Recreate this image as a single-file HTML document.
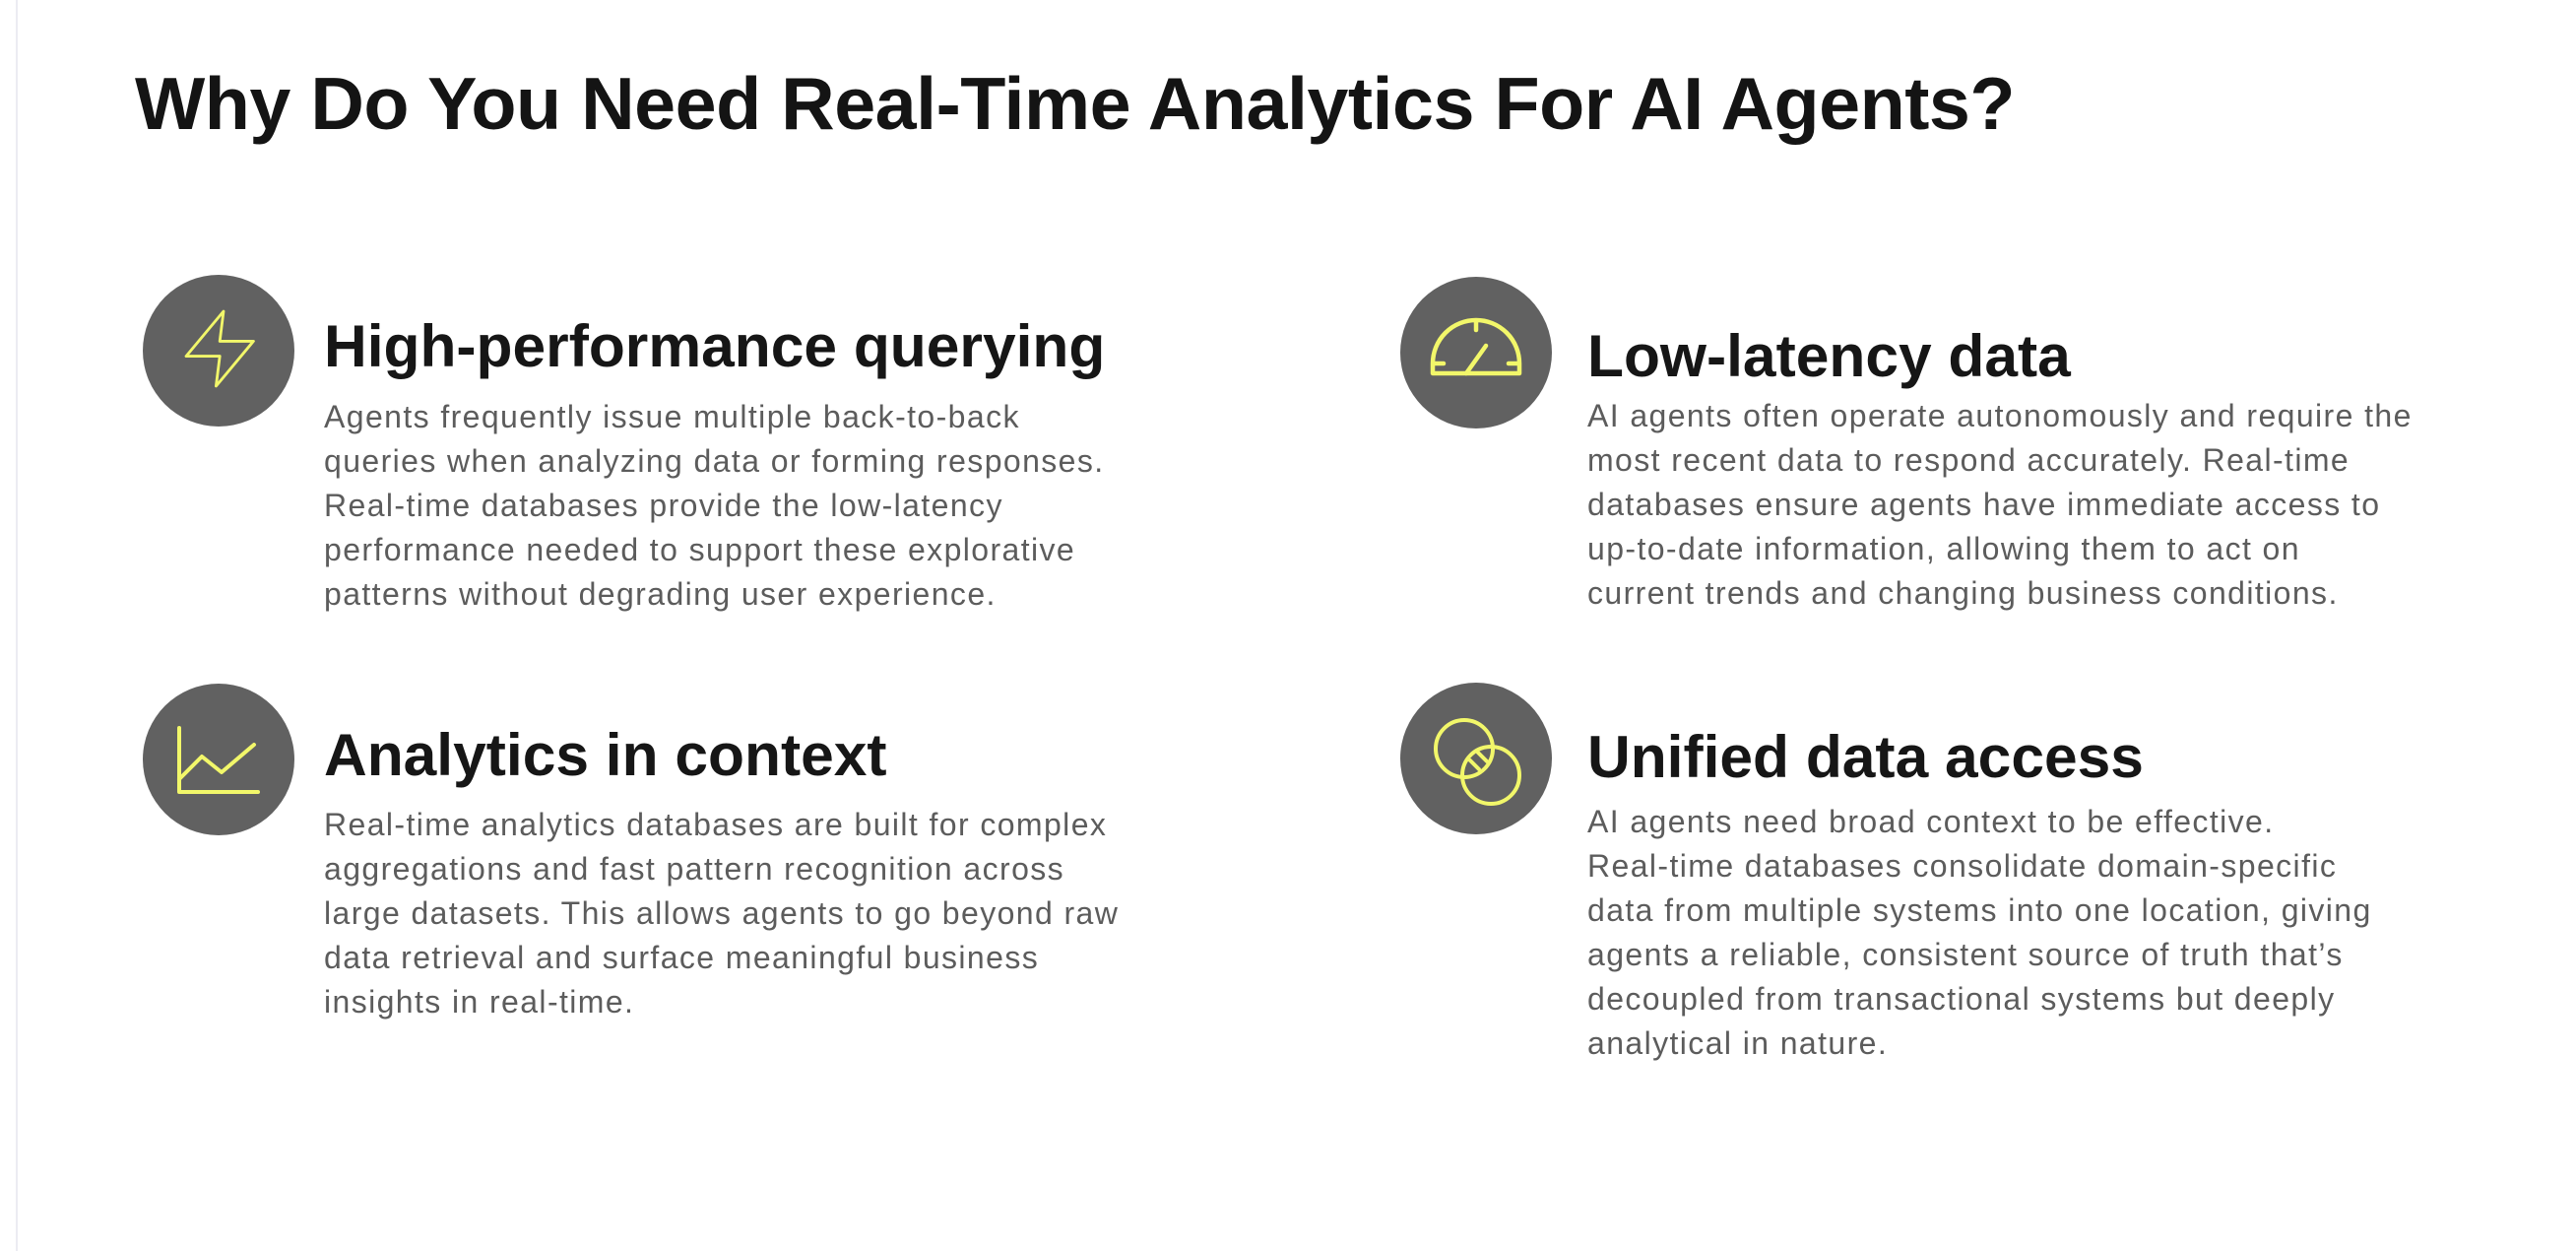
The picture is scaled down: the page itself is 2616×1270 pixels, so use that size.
<!DOCTYPE html>
<html><head><meta charset="utf-8"><style>
html,body{margin:0;padding:0;background:#fff;}
body{width:2616px;height:1270px;position:relative;overflow:hidden;font-family:"Liberation Sans",Arial,sans-serif;}
.vl{position:absolute;left:16px;top:0;width:2px;height:1270px;background:#ececf2;}
.t{position:absolute;left:137px;top:69px;font-size:75.5px;line-height:72px;font-weight:bold;color:#141414;white-space:nowrap;letter-spacing:-0.5px;}
.c{position:absolute;width:154px;height:154px;border-radius:50%;background:#616161;}
.c svg{position:absolute;left:0;top:0;}
.h{position:absolute;font-size:60.5px;line-height:56px;font-weight:bold;color:#161616;white-space:nowrap;}
.b{position:absolute;font-size:32px;line-height:45px;color:#5c5c5c;white-space:nowrap;letter-spacing:1.4px;}
</style></head><body>
<div class="vl"></div>
<div class="t">Why Do You Need Real-Time Analytics For AI Agents?</div>

<div class="c" style="left:145px;top:279px;">
<svg width="154" height="154" viewBox="0 0 154 154"><g transform="translate(32.6,29.4) scale(3.8)"><polygon points="13 2 3 14 12 14 11 22 21 10 12 10 13 2" fill="none" stroke="#f2f76a" stroke-width="0.75" stroke-linejoin="round"/></g></svg>
</div>
<div class="h" style="left:329px;top:323px;">High-performance querying</div>
<div class="b" style="left:329px;top:401px;">Agents frequently issue multiple back-to-back<br>queries when analyzing data or forming responses.<br>Real-time databases provide the low-latency<br>performance needed to support these explorative<br>patterns without degrading user experience.</div>

<div class="c" style="left:1422px;top:281px;">
<svg width="154" height="154" viewBox="0 0 154 154"><g fill="none" stroke="#f2f76a" stroke-width="4.5" stroke-linecap="round" stroke-linejoin="round">
<path d="M33,98 L33,88 A44,44 0 0 1 121,88 L121,98 Z"/>
<line x1="77" y1="45" x2="77" y2="54"/><line x1="34" y1="88" x2="44" y2="88"/><line x1="110" y1="88" x2="120" y2="88"/>
<line x1="67" y1="98" x2="87" y2="70"/></g></svg>
</div>
<div class="h" style="left:1612px;top:333px;">Low-latency data</div>
<div class="b" style="left:1612px;top:400px;">AI agents often operate autonomously and require the<br>most recent data to respond accurately. Real-time<br>databases ensure agents have immediate access to<br>up-to-date information, allowing them to act on<br>current trends and changing business conditions.</div>

<div class="c" style="left:145px;top:694px;">
<svg width="154" height="154" viewBox="0 0 154 154"><g fill="none" stroke="#f2f76a" stroke-width="4" stroke-linecap="round" stroke-linejoin="round">
<path d="M37,45 L37,110 L117,110"/><path d="M37,97 L60,74 L80,90 L113,62"/></g></svg>
</div>
<div class="h" style="left:329px;top:738px;">Analytics in context</div>
<div class="b" style="left:329px;top:815px;">Real-time analytics databases are built for complex<br>aggregations and fast pattern recognition across<br>large datasets. This allows agents to go beyond raw<br>data retrieval and surface meaningful business<br>insights in real-time.</div>

<div class="c" style="left:1422px;top:693px;">
<svg width="154" height="154" viewBox="0 0 154 154"><g fill="none" stroke="#f2f76a" stroke-width="4" stroke-linecap="round">
<circle cx="65" cy="67" r="29"/><circle cx="92" cy="94" r="29"/>
<line x1="71" y1="79" x2="80" y2="88"/><line x1="79" y1="71" x2="88" y2="80"/></g></svg>
</div>
<div class="h" style="left:1612px;top:740px;">Unified data access</div>
<div class="b" style="left:1612px;top:812px;">AI agents need broad context to be effective.<br>Real-time databases consolidate domain-specific<br>data from multiple systems into one location, giving<br>agents a reliable, consistent source of truth that’s<br>decoupled from transactional systems but deeply<br>analytical in nature.</div>
</body></html>
